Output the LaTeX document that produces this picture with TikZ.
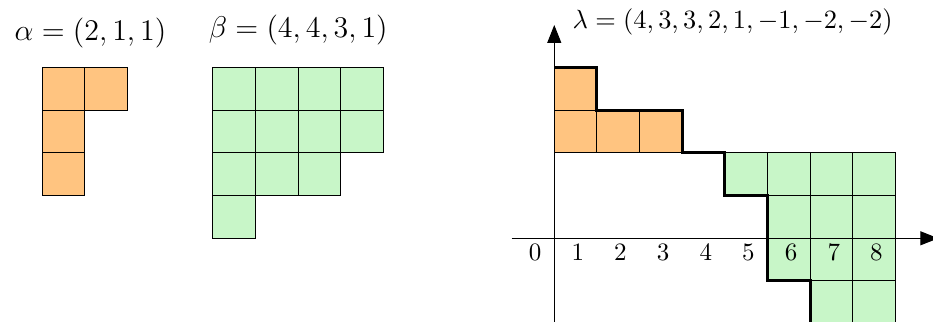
\documentclass[tikz,border=0pt]{standalone}
\usepackage{amsmath,amssymb}
\usetikzlibrary{arrows.meta}
\definecolor{partA}{RGB}{255,196,128}
\definecolor{partB}{RGB}{200,246,200}

\begin{document}
\begin{tikzpicture}[x=6mm, y=6mm, >={Triangle[length=7.2pt,width=5.6pt]},
  boxA/.style={draw, thin, fill=partA},
  boxB/.style={draw, thin, fill=partB},
  axis/.style={->, thin},
  rim/.style={very thick, line join=miter},
  title/.style={anchor=base, font=\fontsize{12.4}{15}\selectfont}]
  \clip (-12.99,-1.94) rectangle (8.875,5.585);
  % the two partitions
  \node[title] (alab) at (-10.87,4.63) {$\alpha=(2,1,1)$};
  \node[title] (blab) at (-6,4.71) {$\beta=(4,4,3,1)$};
  \foreach \x/\y in {-12/3,-11/3,-12/2,-12/1}
    \draw[boxA] (\x,\y) rectangle ++(1,1);
  \foreach \n/\y in {4/3,4/2,3/1,1/0}
    \foreach \k in {1,...,\n}
      \draw[boxB] (-9+\k,\y) rectangle ++(1,1);
  % lambda on the axes
  \foreach \x/\y in {0/3,0/2,1/2,2/2}
    \draw[boxA] (\x,\y) rectangle ++(1,1);
  \foreach \x/\b in {4/1,5/-1,6/-2,7/-2}
    \foreach \y in {\b,...,1}
      \draw[boxB] (\x,\y) rectangle ++(1,1);
  \coordinate (xs) at (-1,0);
  \coordinate (xe) at (9,0);
  \coordinate (ys) at (0,-2);
  \coordinate (ye) at (0,5);
  \draw[axis] (xs) -- (xe);
  \draw[axis] (ys) -- (ye);
  \draw[rim] (0,4) -| (1,3) -| (3,2) -| (4,1) -| (5,-1) -| (6,-2.3);
  \foreach \i in {0,...,8}
    \node (n\i) at (\i-0.45,-0.34) {$\i$};
  \node[anchor=base west, scale=1.055] (llab) at (0.21,4.91) {$\lambda=(4,3,3,2,1,-1,-2,-2)$};
\end{tikzpicture}
\end{document}
